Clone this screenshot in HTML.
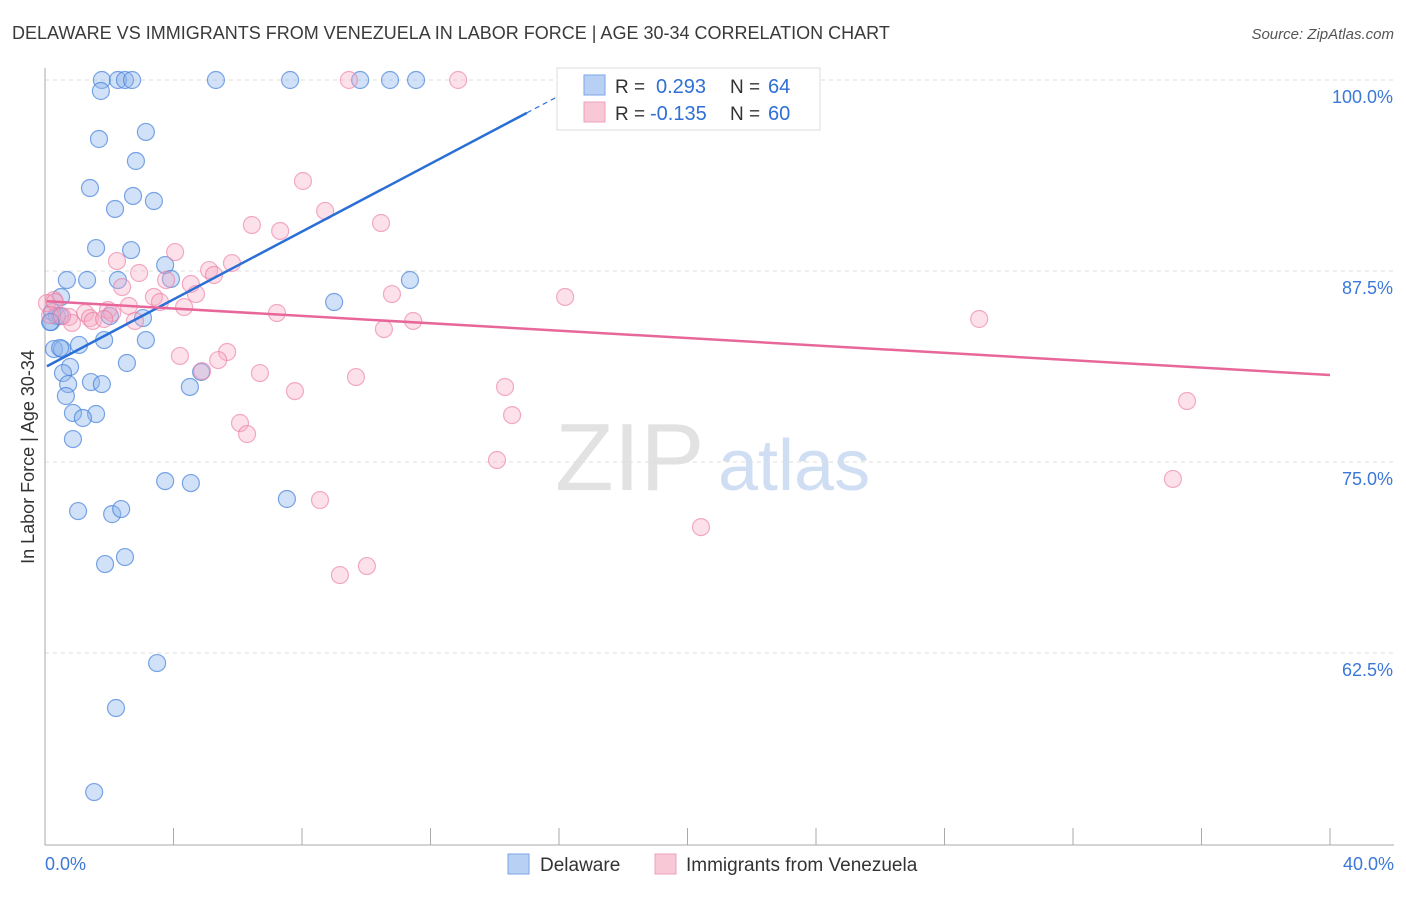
<!DOCTYPE html>
<html><head><meta charset="utf-8">
<style>
body{margin:0;background:#fff;font-family:"Liberation Sans",sans-serif;}
svg text{font-family:"Liberation Sans",sans-serif;}
</style></head>
<body>
<svg id="chart" width="1406" height="892" xmlns="http://www.w3.org/2000/svg">
<text x="12" y="39" font-size="18" fill="#3a3a3a">DELAWARE VS IMMIGRANTS FROM VENEZUELA IN LABOR FORCE | AGE 30-34 CORRELATION CHART</text>
<text x="1394" y="39" font-size="15" fill="#555" text-anchor="end" font-style="italic">Source: ZipAtlas.com</text>
<text x="555" y="490" font-size="96" fill="#e2e2e2" font-family="Liberation Serif">ZIP</text>
<text x="718" y="490" font-size="72" fill="#d0def4">atlas</text>
<g id="grid"></g>
<g id="axes"></g>
<g id="pts"></g>
<g id="lines"></g>
<text transform="translate(34,457) rotate(-90)" font-size="18" fill="#333" text-anchor="middle">In Labor Force | Age 30-34</text>
<g>
<rect x="557" y="68" width="263" height="62" fill="#fff" stroke="#ddd"/>
<rect x="584" y="75" width="21" height="20" fill="#b8d0f4" stroke="#7aa6e8"/>
<rect x="584" y="102" width="21" height="20" fill="#f9c8d6" stroke="#f0a0b8"/>
<text x="615" y="93" font-size="19" fill="#333">R =</text><text x="656" y="93" font-size="20" fill="#2f6fd6">0.293</text>
<text x="730" y="93" font-size="19" fill="#333">N =</text><text x="768" y="93" font-size="20" fill="#2f6fd6">64</text>
<text x="615" y="120" font-size="19" fill="#333">R =</text><text x="650" y="120" font-size="20" fill="#2f6fd6">-0.135</text>
<text x="730" y="120" font-size="19" fill="#333">N =</text><text x="768" y="120" font-size="20" fill="#2f6fd6">60</text>
</g>
<g>
<rect x="508" y="854" width="21" height="20" fill="#b8d0f4" stroke="#7aa6e8"/>
<text x="540" y="871" font-size="19" fill="#333">Delaware</text>
<rect x="655" y="854" width="21" height="20" fill="#f9c8d6" stroke="#f0a0b8"/>
<text x="686" y="871" font-size="19" fill="#333">Immigrants from Venezuela</text>
</g>
</svg>
<script>
const yTicks=[100,87.5,75,62.5];
const yTickLabels=["100.0%","87.5%","75.0%","62.5%"];
const xTickLabels=["0.0%","40.0%"];
const blueX=[1.77,2.27,2.49,2.71,5.32,7.63,9.81,10.74,11.55,1.74,3.14,1.68,2.83,1.40,2.74,3.39,2.18,1.59,2.68,3.74,0.68,1.31,2.27,3.92,11.36,0.50,9.00,0.22,0.37,0.47,2.02,3.05,0.19,3.14,1.84,1.06,0.28,0.53,0.47,2.55,0.78,0.56,1.43,1.77,0.72,4.51,0.65,4.86,0.87,1.59,1.18,0.87,3.74,4.54,7.53,1.03,2.09,2.37,2.49,1.87,3.49,2.21,1.53,0.16];
const blueY=[100,100,100,100,100,100,100,100,100,99.28,96.60,96.14,94.70,92.93,92.41,92.08,91.56,89.0,88.87,87.89,86.91,86.91,86.91,86.98,86.91,85.80,85.47,84.82,84.55,84.55,84.55,84.42,84.16,82.98,82.98,82.66,82.39,82.39,82.46,81.48,81.22,80.82,80.23,80.10,80.10,79.91,79.32,80.89,78.21,78.14,77.88,76.50,73.75,73.62,72.58,71.79,71.59,71.92,68.78,68.32,61.84,58.90,53.40,84.16];
const pinkX=[9.46,12.86,21.32,8.03,8.72,10.46,6.44,7.32,4.05,5.82,2.24,2.93,5.11,5.26,3.77,4.54,4.70,2.40,0.28,0.06,3.39,3.58,2.61,4.33,1.96,1.25,2.09,10.80,16.19,7.22,0.75,1.40,1.49,0.84,1.84,2.80,11.46,10.55,29.08,4.20,5.67,5.39,6.69,4.89,9.68,7.78,14.32,14.54,35.55,6.07,6.29,14.07,8.56,35.11,20.42,10.02,9.18,0.31,0.16,0.53];
const pinkY=[100,100,100,93.39,91.43,90.64,90.51,90.12,88.74,88.02,88.15,87.37,87.56,87.24,86.91,86.65,85.99,86.45,85.60,85.40,85.80,85.47,85.21,85.14,84.95,84.75,84.75,85.99,85.80,84.75,84.49,84.42,84.23,84.10,84.36,84.23,84.23,83.70,84.36,81.94,82.20,81.67,80.82,80.95,80.56,79.64,79.91,78.07,78.99,77.55,76.83,75.13,72.51,73.89,70.74,68.19,67.60,85.47,84.62,84.55];
const blueTrend=[81.2,1.11];
const pinkTrend=[85.53,-0.121];
const NS="http://www.w3.org/2000/svg";
const X=v=>45+v/40*1285;
const Y=v=>80+(100-v)/12.5*191;
function mk(t,a,p){const e=document.createElementNS(NS,t);for(const k in a)e.setAttribute(k,a[k]);p.appendChild(e);return e;}
const grid=document.getElementById('grid'),axes=document.getElementById('axes'),pts=document.getElementById('pts'),lines=document.getElementById('lines');
yTicks.forEach((t,i)=>{
 const l=mk('line',{x1:45,x2:1394,y1:Y(t),y2:Y(t),stroke:'#ddd','stroke-dasharray':'4,4'},grid);
 
 
 const tx=mk('text',{x:1393,y:Y(t)+23,'font-size':18,fill:'#3b78d8','text-anchor':'end'},axes);
 tx.textContent=yTickLabels[i];
 
 
});
let a=mk('line',{x1:45,x2:45,y1:68,y2:845,stroke:'#aaa'},axes);


a=mk('line',{x1:45,x2:1394,y1:845,y2:845,stroke:'#aaa'},axes);


for(let i=1;i<=10;i++){const t=mk('line',{x1:X(i*4),x2:X(i*4),y1:828,y2:845,stroke:'#aaa'},axes);
 
 }
[[0,'start',45],[1,'end',1394]].forEach(([i,an,x])=>{const t=mk('text',{x:x,y:870,'font-size':18,fill:'#3b78d8','text-anchor':an},axes);t.textContent=xTickLabels[i];
 
 });
blueX.forEach((v,i)=>{const c=mk('circle',{cx:X(v),cy:Y(blueY[i]),r:8.5,fill:'rgba(140,180,235,0.4)',stroke:'rgba(70,130,220,0.7)','stroke-width':1.2},pts);
 
 });
pinkX.forEach((v,i)=>{const c=mk('circle',{cx:X(v),cy:Y(pinkY[i]),r:8.5,fill:'rgba(245,170,195,0.35)',stroke:'rgba(235,120,160,0.6)','stroke-width':1.2},pts);
 
 });
const bx1=0.06,bx2=15.0,bx3=16.6;
let l=mk('line',{x1:X(bx1),y1:Y(blueTrend[0]+blueTrend[1]*bx1),x2:X(bx2),y2:Y(blueTrend[0]+blueTrend[1]*bx2),stroke:'#2a6fd6','stroke-width':2.5},lines);


l=mk('line',{x1:X(bx2),y1:Y(blueTrend[0]+blueTrend[1]*bx2),x2:X(bx3),y2:Y(blueTrend[0]+blueTrend[1]*bx3),stroke:'#2a6fd6','stroke-width':1.2,'stroke-dasharray':'5,4'},lines);


l=mk('line',{x1:X(0.06),y1:Y(pinkTrend[0]+pinkTrend[1]*0.06),x2:X(40),y2:Y(pinkTrend[0]+pinkTrend[1]*40),stroke:'#e8679a','stroke-width':2.5},lines);


</script>
</body></html>
